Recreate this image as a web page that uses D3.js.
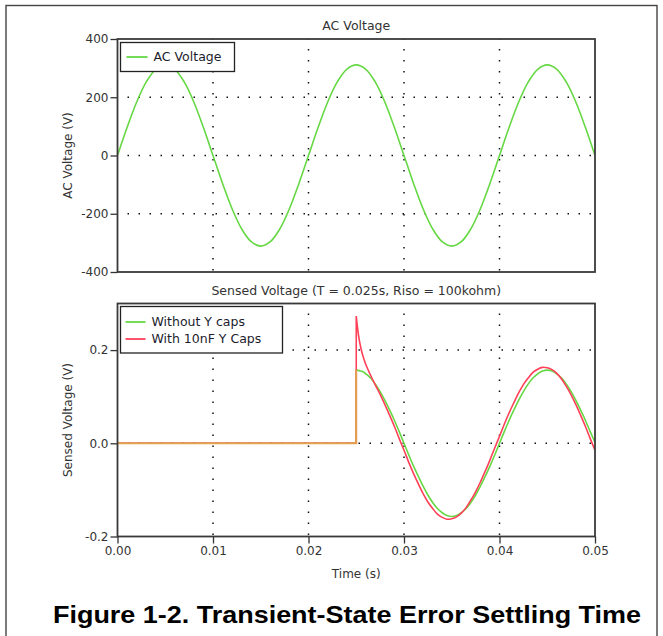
<!DOCTYPE html>
<html>
<head>
<meta charset="utf-8">
<script src="https://cdn.jsdelivr.net/npm/d3@7"></script>
<style>
body { margin: 0; background: #fff; }
svg text { font-family: "DejaVu Sans", Verdana, sans-serif; }
</style>
</head>
<body>
<div id="chart"></div>
<script>
var width = 663,
height = 636

// AC voltage, read every 1 ms
var acTime = [0,0.001,0.002,0.003,0.004,0.005,0.006,0.007,0.008,0.009,
  0.010,0.011,0.012,0.013,0.014,0.015,0.016,0.017,0.018,0.019,
  0.020,0.021,0.022,0.023,0.024,0.025,0.026,0.027,0.028,0.029,
  0.030,0.031,0.032,0.033,0.034,0.035,0.036,0.037,0.038,0.039,
  0.040,0.041,0.042,0.043,0.044,0.045,0.046,0.047,0.048,0.049,0.050]
var acVolts = [0,96,183,252,296,311,296,252,183,96,
  0,-96,-183,-252,-296,-311,-296,-252,-183,-96,
  0,96,183,252,296,311,296,252,183,96,
  0,-96,-183,-252,-296,-311,-296,-252,-183,-96,
  0,96,183,252,296,311,296,252,183,96,0]

// sensed voltage, flat until the switch at 0.025 s, then every 0.5 ms
var sensedTime = [0,0.025,0.025,0.02525,0.0255,0.02575,0.026,0.0265,0.027,0.0275,
  0.028,0.0285,0.029,0.0295,0.030,0.0305,0.031,0.0315,0.032,0.0325,
  0.033,0.0335,0.034,0.0345,0.035,0.0355,0.036,0.0365,0.037,0.0375,
  0.038,0.0385,0.039,0.0395,0.040,0.0405,0.041,0.0415,0.042,0.0425,
  0.043,0.0435,0.044,0.0445,0.045,0.0455,0.046,0.0465,0.047,0.0475,
  0.048,0.0485,0.049,0.0495,0.050]
var withoutYcaps = [0,0,0.158,0.156,0.155,0.153,0.149,0.140,0.127,0.111,
  0.092,0.071,0.049,0.025,0.000,-0.025,-0.049,-0.071,-0.092,-0.111,
  -0.127,-0.140,-0.149,-0.155,-0.157,-0.155,-0.149,-0.140,-0.127,-0.111,
  -0.092,-0.071,-0.049,-0.025,0.000,0.025,0.049,0.071,0.092,0.111,
  0.127,0.140,0.149,0.155,0.157,0.155,0.149,0.140,0.127,0.111,
  0.092,0.071,0.049,0.025,0.002]
var with10nF = [0,0,0.273,0.230,0.203,0.184,0.169,0.146,0.125,0.105,
  0.083,0.060,0.036,0.010,-0.015,-0.041,-0.065,-0.087,-0.108,-0.126,
  -0.140,-0.152,-0.159,-0.163,-0.162,-0.158,-0.150,-0.138,-0.122,-0.104,
  -0.083,-0.060,-0.036,-0.010,0.015,0.041,0.065,0.087,0.108,0.126,
  0.140,0.152,0.159,0.163,0.162,0.158,0.150,0.138,0.122,0.104,
  0.083,0.060,0.036,0.010,-0.015]

var timeTicks = [0,0.01,0.02,0.03,0.04,0.05]
var acTicks = [-400,-200,0,200,400]
var sensedTicks = [-0.2,0,0.2]

var green = "#66d844"
var red = "#ff4058"
var orange = "#e8a04c"

var svg = d3.select("#chart").append("svg")
.attr("width", width)
.attr("height", height)

// outer frame
svg.append("rect")
.attr("x", 6).attr("y", 5.5)
.attr("width", 651).attr("height", 640)
.attr("fill", "none")
.attr("stroke", "#444")
.attr("stroke-width", 1.4)

var left = 117.5, right = 595

var x = d3.scaleLinear().domain([0, 0.05]).range([left, right])
var yAC = d3.scaleLinear().domain([-400, 400]).range([272, 39])
var ySensed = d3.scaleLinear().domain([-0.2, 0.3]).range([536.5, 303.5])

// plain hyphen for negative labels, like the original
function hyphen(f) {
  return function(d) { return f(d).replace("\u2212", "-") }
}

function drawPanel(y, yTicks, gridValues, title, yLabel, fmt, id) {
  var g = svg.append("g")
  var top = y.range()[1], bottom = y.range()[0]

  g.append("clipPath").attr("id", id)
  .append("rect")
  .attr("x", left).attr("y", top)
  .attr("width", right - left).attr("height", bottom - top)

  // dotted grid
  g.selectAll(".hgrid").data(gridValues).enter()
  .append("line")
  .attr("x1", left).attr("x2", right)
  .attr("y1", function(d) { return y(d) }).attr("y2", function(d) { return y(d) })
  .attr("stroke", "#111").attr("stroke-width", 1.5)
  .attr("stroke-dasharray", "1.5 9.5")
  .attr("stroke-dashoffset", -10)

  g.selectAll(".vgrid").data(timeTicks.slice(1, -1)).enter()
  .append("line")
  .attr("x1", function(d) { return x(d) }).attr("x2", function(d) { return x(d) })
  .attr("y1", top).attr("y2", bottom)
  .attr("stroke", "#111").attr("stroke-width", 1.5)
  .attr("stroke-dasharray", "1.5 9.5")
  .attr("stroke-dashoffset", -10)

  var ax = g.append("g")
  .attr("transform", "translate(" + left + ",0)")
  .call(d3.axisLeft(y).tickValues(yTicks).tickSize(7).tickPadding(2).tickFormat(hyphen(fmt)))
  ax.select(".domain").remove()
  ax.selectAll("line").attr("stroke", "#333").attr("stroke-width", 1.3)
  ax.selectAll("text").attr("fill", "#333").style("font-size", "12px")

  g.append("text")
  .attr("x", (left + right) / 2).attr("y", top - 9)
  .attr("text-anchor", "middle")
  .attr("fill", "#333")
  .style("font-size", "12.5px")
  .text(title)

  g.append("text")
  .attr("transform", "translate(68," + (top + bottom) / 2 + ") rotate(-90)")
  .attr("text-anchor", "middle")
  .attr("dominant-baseline", "middle")
  .attr("fill", "#333")
  .style("font-size", "12px")
  .text(yLabel)

  return g
}

function frame(g, y) {
  var top = y.range()[1], bottom = y.range()[0]
  g.append("rect")
  .attr("x", left).attr("y", top)
  .attr("width", right - left).attr("height", bottom - top)
  .attr("fill", "none")
  .attr("stroke", "#3a3a3a")
  .attr("stroke-width", 1.8)
}

// ---- top panel: AC voltage
var gTop = drawPanel(yAC, acTicks, [-200, 0, 200], "AC Voltage", "AC Voltage (V)", d3.format("d"), "clipTop")

var acLine = d3.line()
.x(function(d, i) { return x(acTime[i]) })
.y(function(d) { return yAC(d) })
.curve(d3.curveCatmullRom)

gTop.append("path")
.attr("clip-path", "url(#clipTop)")
.attr("d", acLine(acVolts))
.attr("fill", "none")
.attr("stroke", green)
.attr("stroke-width", 1.6)

frame(gTop, yAC)

// legend top
var lg1 = gTop.append("g").attr("transform", "translate(120.5,42.5)")
lg1.append("rect").attr("width", 114).attr("height", 29)
.attr("fill", "#fff").attr("stroke", "#222").attr("stroke-width", 1.3)
lg1.append("line").attr("x1", 6).attr("x2", 27).attr("y1", 14.5).attr("y2", 14.5)
.attr("stroke", green).attr("stroke-width", 1.8)
lg1.append("text").attr("x", 33).attr("y", 14.5)
.attr("dominant-baseline", "middle").attr("fill", "#1c1c2c")
.style("font-size", "12.5px").text("AC Voltage")

// ---- bottom panel: sensed voltage
var gBot = drawPanel(ySensed, sensedTicks, [0, 0.2], "Sensed Voltage (T = 0.025s, Riso = 100kohm)", "Sensed Voltage (V)", d3.format(".1f"), "clipBot")

var stepLine = d3.line()
.x(function(d) { return x(d[0]) })
.y(function(d) { return ySensed(d[1]) })
var smoothLine = d3.line()
.x(function(d) { return x(d[0]) })
.y(function(d) { return ySensed(d[1]) })
.curve(d3.curveCatmullRom)

function seriesPath(values) {
  var pts = sensedTime.map(function(t, i) { return [t, values[i]] })
  // straight flat part and switch step, smooth after it
  return stepLine(pts.slice(0, 3)) + smoothLine(pts.slice(2))
}

gBot.append("path")
.attr("clip-path", "url(#clipBot)")
.attr("d", seriesPath(withoutYcaps))
.attr("fill", "none").attr("stroke", green).attr("stroke-width", 1.6)

gBot.append("path")
.attr("clip-path", "url(#clipBot)")
.attr("d", seriesPath(with10nF))
.attr("fill", "none").attr("stroke", red).attr("stroke-width", 1.6)

// part where both traces lie on top of each other
var common = [[sensedTime[0], 0], [sensedTime[1], 0], [sensedTime[2], Math.min(withoutYcaps[2], with10nF[2])]]
gBot.append("path")
.attr("d", stepLine(common))
.attr("fill", "none").attr("stroke", orange).attr("stroke-width", 1.8)

frame(gBot, ySensed)

var xAx = gBot.append("g")
.attr("transform", "translate(0," + ySensed(-0.2) + ")")
.call(d3.axisBottom(x).tickValues(timeTicks).tickSize(7).tickPadding(3).tickFormat(d3.format(".2f")))
xAx.select(".domain").remove()
xAx.selectAll("line").attr("stroke", "#333").attr("stroke-width", 1.3)
xAx.selectAll("text").attr("fill", "#333").style("font-size", "12px")

gBot.append("text")
.attr("x", (left + right) / 2).attr("y", 578)
.attr("text-anchor", "middle").attr("fill", "#333")
.style("font-size", "12px")
.text("Time (s)")

// legend bottom
var lg2 = gBot.append("g").attr("transform", "translate(120.5,306.5)")
lg2.append("rect").attr("width", 162).attr("height", 46.5)
.attr("fill", "#fff").attr("stroke", "#222").attr("stroke-width", 1.3)
var legendItems = [["Without Y caps", green], ["With 10nF Y Caps", red]]
lg2.selectAll(".item").data(legendItems).enter()
.append("line")
.attr("x1", 5).attr("x2", 25)
.attr("y1", function(d, i) { return 15.5 + i * 17 }).attr("y2", function(d, i) { return 15.5 + i * 17 })
.attr("stroke", function(d) { return d[1] }).attr("stroke-width", 1.8)
lg2.selectAll(".itemText").data(legendItems).enter()
.append("text")
.attr("x", 31).attr("y", function(d, i) { return 15.5 + i * 17 })
.attr("dominant-baseline", "middle").attr("fill", "#1c1c2c")
.style("font-size", "12.5px")
.text(function(d) { return d[0] })

// caption
svg.append("text")
.attr("x", 347).attr("y", 623)
.attr("text-anchor", "middle")
.style("font-family", "'Liberation Sans', Arial, sans-serif")
.style("font-weight", "bold")
.style("font-size", "24px")
.attr("textLength", 588)
.attr("lengthAdjust", "spacingAndGlyphs")
.text("Figure 1-2. Transient-State Error Settling Time")
</script>
</body>
</html>
